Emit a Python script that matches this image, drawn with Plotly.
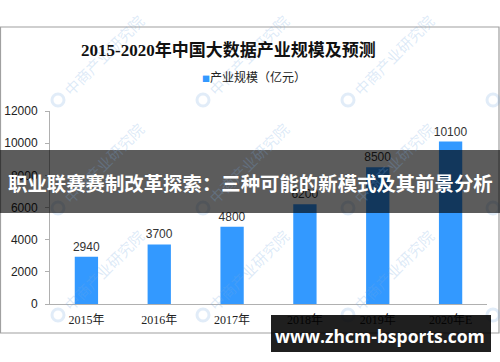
import plotly.graph_objects as go

# ---- data ----
years = ["2015年", "2016年", "2017年", "2018年", "2019年", "2020年E"]
scale = [2940, 3700, 4800, 6200, 8500, 10100]
y_ticks = [0, 2000, 4000, 6000, 8000, 10000, 12000]

title_text = "2015-2020年中国大数据产业规模及预测"
legend_text = "产业规模（亿元）"
banner_text = "职业联赛赛制改革探索：三种可能的新模式及其前景分析"
site_text = "www.zhcm-bsports.com"
watermark = "中商产业研究院"

W, H = 500, 362
L, R, T, B = 50, 13, 111, 58
PW, PH = W - L - R, H - T - B


def px(x):
    return (x - L) / PW


def py(y):
    return (H - B - y) / PH


BLUE = "#3399FF"

fig = go.Figure()
fig.add_trace(go.Bar(
    x=years, y=scale, width=0.32, marker=dict(color=BLUE, line=dict(width=0)),
    text=[str(v) for v in scale], textposition="outside", constraintext="none",
    textfont=dict(family="Liberation Sans, Arial, sans-serif", size=12, color="#333333"),
    cliponaxis=False, showlegend=False,
))

shapes = []
annotations = []


def note(x, y, text, font, **kw):
    d = dict(xref="paper", yref="paper", x=px(x), y=py(y), text=text, showarrow=False,
             xanchor="center", yanchor="middle", font=font)
    d.update(kw)
    annotations.append(d)


# chart frame
shapes.append(dict(type="rect", xref="paper", yref="paper",
                   x0=px(0.5), x1=px(499), y0=py(27), y1=py(333),
                   line=dict(color="#a0a0a0", width=1.2), fillcolor="rgba(0,0,0,0)", layer="below"))

# watermarks
for ry in [100, 208, 315]:
    for rx in [58, 203, 348, 493]:
        if rx < 450:
            note(rx + 45, ry - 45, watermark,
                 dict(family="Noto Sans CJK SC", size=15, color="rgba(120,170,225,0.25)"), textangle=-45)
        shapes.append(dict(type="circle", xref="paper", yref="paper",
                           x0=px(rx - 6), x1=px(rx + 6), y0=py(ry - 6), y1=py(ry + 6),
                           line=dict(color="rgba(120,170,225,0.22)", width=3), layer="above"))

# title
note(228, 50, "<b>" + title_text + "</b>",
     dict(family="Liberation Serif, Noto Sans CJK SC", size=17, color="#111111"))
# legend
note(200, 76, "<span style='color:" + BLUE + ";font-size:8px'>■</span>" + legend_text,
     dict(family="Noto Sans CJK SC", size=12, color="#222222"), xanchor="left")

# grey banner
shapes.append(dict(type="rect", xref="paper", yref="paper", x0=px(0), x1=px(500), y0=py(150), y1=py(213),
                   fillcolor="rgba(0,0,0,0.64)", line=dict(width=0), layer="above"))
note(250, 182, "<b>" + banner_text + "</b>",
     dict(family="Noto Sans CJK SC", size=19.4, color="white"))
# site box
shapes.append(dict(type="rect", xref="paper", yref="paper", x0=px(271), x1=px(491), y0=py(315), y1=py(352),
                   fillcolor="rgba(0,0,0,0.88)", line=dict(width=0), layer="above"))
note(380, 336, "<b>" + site_text + "</b>",
     dict(family="Open Sans", size=17.5, color="white"))

fig.update_layout(
    width=W, height=H, margin=dict(l=L, r=R, t=T, b=B, autoexpand=False),
    paper_bgcolor="white", plot_bgcolor="white",
    shapes=shapes, annotations=annotations, showlegend=False,
)
fig.update_xaxes(showline=True, linecolor="#b0b0b0", linewidth=1, ticks="", ticklabelstandoff=5,
                 automargin=False,
                 tickfont=dict(family="Liberation Serif, Noto Sans CJK SC", size=12, color="#222222"),
                 showgrid=False, zeroline=False)
fig.update_yaxes(range=[0, 12000], tickvals=y_ticks, ticktext=[str(v) for v in y_ticks],
                 showline=True, linecolor="#b0b0b0", linewidth=1, automargin=False,
                 ticks="outside", ticklen=4, tickcolor="#b0b0b0", ticklabelstandoff=5,
                 tickfont=dict(family="Liberation Sans, Arial", size=12, color="#222222"),
                 showgrid=False, zeroline=False)

fig.write_html("out.html")
